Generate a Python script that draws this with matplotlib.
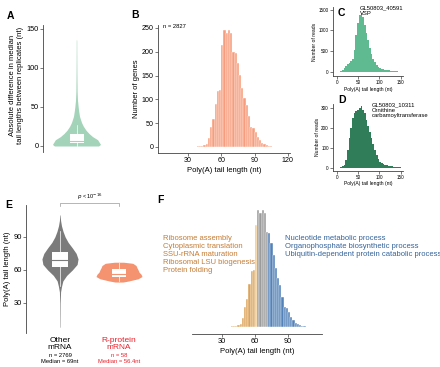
import matplotlib.pyplot as plt
import numpy as np
from matplotlib.patches import Rectangle

plt.rcParams['font.family'] = ['Liberation Sans', 'DejaVu Sans']

# ---- data ----
# B / F : number of genes per 2-nt poly(A) bin (bin centres)
genes_len = [7, 9, 11, 13, 33, 35, 37, 39, 41, 43, 45, 47, 49, 51, 53, 55, 57, 59,
             61, 63, 65, 67, 69, 71, 73, 75, 77, 79, 81, 83, 85, 87, 89, 91, 93, 95,
             97, 99, 101, 103, 105, 107, 109, 111, 113]
genes_n = [1, 1, 1, 1, 1, 1, 1, 2, 2, 3, 5, 6, 18, 43, 58, 90, 118, 120,
           214, 246, 239, 246, 239, 200, 197, 176, 151, 123, 102, 88, 64, 43, 39, 32, 22, 15,
           8, 6, 4, 2, 2, 1, 1, 1, 1]

# C / D : reads per 4-nt bin for two single genes
reads_len = [10, 14, 18, 22, 26, 30, 34, 38, 42, 46, 50, 54, 58, 62, 66, 70, 74, 78,
             82, 86, 90, 94, 98, 102, 106, 110, 114, 118, 122, 126, 130, 134, 138, 142, 146, 150]
vsp_reads = [10, 50, 100, 140, 180, 220, 270, 320, 520, 900, 1180, 1370, 1430, 1320, 1130, 930, 760, 580,
             440, 320, 240, 160, 120, 80, 65, 55, 48, 40, 33, 25, 20, 15, 12, 8, 5, 3]
otc_reads = [2, 6, 15, 40, 90, 150, 200, 250, 275, 283, 290, 297, 308, 290, 275, 240, 208, 180,
             150, 120, 90, 62, 42, 28, 22, 17, 14, 12, 10, 8, 7, 5, 5, 3, 2, 1]

# A : violin outline (relative density) of |difference| between replicates
a_levels = [0, 2, 4, 8, 12, 16, 20, 25, 30, 38, 45, 50, 59, 70, 90, 110, 136]
a_dens = [0.92, 1.0, 0.96, 0.88, 0.67, 0.52, 0.40, 0.29, 0.21, 0.125, 0.09, 0.07, 0.04, 0.025, 0.017, 0.012, 0.008]
a_box = [0, 3.4, 7, 16, 27]  # whisker low, q1, median, q3, whisker high

# E : violins of tail length
e_groups = ["Other\nmRNA", "R-protein\nmRNA"]
e_counts = ["n = 2769\nMedian = 69nt", "n = 58\nMedian = 56.4nt"]
other_levels = [8, 30, 40, 45, 50, 55, 60, 65, 70, 75, 80, 85, 90, 95, 100, 105, 110]
other_dens = [0.01, 0.015, 0.03, 0.08, 0.15, 0.35, 0.65, 0.9, 0.95, 0.85, 0.65, 0.43, 0.27, 0.16, 0.08, 0.03, 0.01]
rp_levels = [49, 50, 52, 54, 56, 58, 60, 62, 64, 66, 67]
rp_dens = [0.17, 0.43, 0.83, 1.0, 0.96, 0.87, 0.83, 0.78, 0.74, 0.6, 0.2]
other_box = [45, 63, 69, 76, 95]
rp_box = [50, 53.6, 56.4, 60.6, 66]

go_short = ["Ribosome assembly", "Cytoplasmic translation", "SSU-rRNA maturation",
            "Ribosomal LSU biogenesis", "Protein folding"]
go_long = ["Nucleotide metabolic process", "Organophosphate biosynthetic process",
           "Ubiquitin-dependent protein catabolic process"]

W, H = 440, 367
fig = plt.figure(figsize=(W / 100, H / 100), dpi=100)


def px_ax(l, t, r, b):
    return fig.add_axes([l / W, 1 - b / H, (r - l) / W, (b - t) / H])


def ftext(x, y, s, **kw):
    fig.text(x / W, 1 - y / H, s, **kw)


def style(ax, left=True, bottom=True, size=5.3):
    for s in ["top", "right"]:
        ax.spines[s].set_visible(False)
    ax.spines["left"].set_visible(left)
    ax.spines["bottom"].set_visible(bottom)
    for s in ["left", "bottom"]:
        ax.spines[s].set_linewidth(0.6)
        ax.spines[s].set_color("#444444")
    ax.tick_params(length=2, width=0.5, labelsize=size, pad=1, color="#444444")
    ax.patch.set_alpha(0)


def violin(ax, pos, levels, dens, box, color, halfw, boxw, medcol):
    d = np.array(dens) * halfw
    ax.fill_betweenx(levels, pos - d, pos + d, color=color, lw=0)
    ax.plot([pos, pos], [box[0], box[4]], color="white", lw=0.5)
    ax.add_patch(Rectangle((pos - boxw, box[1]), 2 * boxw, box[3] - box[1],
                           facecolor="white", edgecolor="none"))
    ax.plot([pos - boxw, pos + boxw], [box[2], box[2]], color=medcol, lw=0.8)


# ---- A ----
axA = px_ax(43, 25, 110, 152)
violin(axA, 0, a_levels, a_dens, a_box, "#a3d3b8", 24 / 33.5, 7 / 33.5, "#a3d3b8")
axA.set_xlim(-1, 1)
axA.set_ylim(-7.7, 155)
axA.set_yticks([0, 50, 100, 150])
axA.set_xticks([])
style(axA, bottom=False)
ftext(17, 85, "Absolute difference in median\ntail lengths between replicates (nt)",
      rotation=90, ha="center", va="center", fontsize=5.5)

# ---- B ----
axB = px_ax(158, 25, 290, 153)
axB.bar(genes_len, genes_n, width=2, color="#f79c7c", edgecolor="white", linewidth=0.3)
axB.set_xlim(3, 122)
axB.set_ylim(-12.6, 256)
axB.set_xticks([30, 60, 90, 120])
axB.set_yticks([0, 50, 100, 150, 200, 250])
style(axB, size=5.1)
axB.set_xlabel("Poly(A) tail length (nt)", fontsize=5.5, labelpad=2)
axB.set_ylabel("Number of genes", fontsize=5.5, labelpad=1.5)
ftext(163, 27, "n = 2827", fontsize=4.2, va="center")

# ---- C ----
axC = px_ax(333, 7, 403, 76)
axC.bar(reads_len, vsp_reads, width=4, color="#5fba92", linewidth=0)
axC.set_xlim(-8.7, 155.6)
axC.set_ylim(-104, 1570)
axC.set_xticks([0, 50, 100, 150])
axC.set_yticks([0, 500, 1000, 1500])
style(axC, size=3.3)
axC.set_xlabel("Poly(A) tail length (nt)", fontsize=3.6, labelpad=1)
axC.set_ylabel("Number of reads", fontsize=3.6, labelpad=1)
ftext(360, 11, "GL50803_40591\nVSP", fontsize=4.2, va="center", linespacing=1.1)

# ---- D ----
axD = px_ax(333, 104, 403, 170.5)
axD.bar(reads_len, otc_reads, width=4, color="#2f7d59", linewidth=0)
axD.set_xlim(-8.7, 155.6)
axD.set_ylim(-15, 318)
axD.set_xticks([0, 50, 100, 150])
axD.set_yticks([0, 100, 200, 300])
style(axD, size=3.3)
axD.set_xlabel("Poly(A) tail length (nt)", fontsize=3.6, labelpad=1)
axD.set_ylabel("Number of reads", fontsize=3.6, labelpad=1)
ftext(372, 110, "GL50803_10311\nOrnithine\ncarbamoyltransferase", fontsize=4.2,
      va="center", linespacing=1.15)

# ---- E ----
axE = px_ax(26, 205, 150, 333)
violin(axE, 1, other_levels, other_dens, other_box, "#7b7b7b", 19 / 59, 8 / 59, "#7b7b7b")
violin(axE, 2, rp_levels, rp_dens, rp_box, "#f5926f", 23 / 59, 7 / 59, "#f5926f")
axE.set_xlim(0.424, 2.525)
axE.set_ylim(2.7, 119)
axE.set_yticks([30, 60, 90])
axE.set_xticks([])
style(axE, bottom=False, size=5.4)
axE.set_ylabel("Poly(A) tail length (nt)", fontsize=5.5, labelpad=2)
# significance bracket
axE.plot([1, 1, 2, 2], [118.5, 120.6, 120.6, 118.5], color="#999999", lw=0.5, clip_on=False)
axE.text(1.5, 121.3, "$p$ < 10$^{-16}$", ha="center", va="bottom", fontsize=4)
for x, g, c, col in zip([60, 119], e_groups, e_counts, ["black", "#e8202a"]):
    ftext(x, 337, g, ha="center", va="top", fontsize=6, color=col, linespacing=1.0)
    ftext(x, 353, c, ha="center", va="top", fontsize=4.2, color=col, linespacing=1.2)

# ---- F ----
axF = px_ax(191.7, 200, 321.7, 334)
f_cols = []
for L in genes_len:
    if L <= 59:
        f_cols.append("#dba45c")
    elif L <= 61:
        f_cols.append("#f6c884")
    elif L <= 71:
        f_cols.append("#9b9b9b")
    else:
        f_cols.append("#5282b8")
axF.bar(genes_len, genes_n, width=2, color=f_cols, edgecolor="white", linewidth=0.3)
axF.set_xlim(2.5, 120.6)
axF.set_ylim(-14.7, 267)
axF.set_xticks([30, 60, 90])
axF.set_yticks([])
style(axF, left=False)
axF.set_xlabel("Poly(A) tail length (nt)", fontsize=5.5, labelpad=2)
ftext(162.5, 234.5, "\n".join(go_short), fontsize=5.5, color="#c57b33", va="top",
      linespacing=1.2)
ftext(285, 234.5, "\n".join(go_long), fontsize=5.5, color="#34639a", va="top",
      linespacing=1.2)

# panel letters
for letter, x, y in [("A", 7, 16), ("B", 131, 15), ("C", 338, 13), ("D", 338, 100),
                     ("E", 5, 205), ("F", 157, 200)]:
    ftext(x, y, letter, fontsize=7.5, fontweight="bold", va="center")

fig.savefig("out.png", dpi=100)
